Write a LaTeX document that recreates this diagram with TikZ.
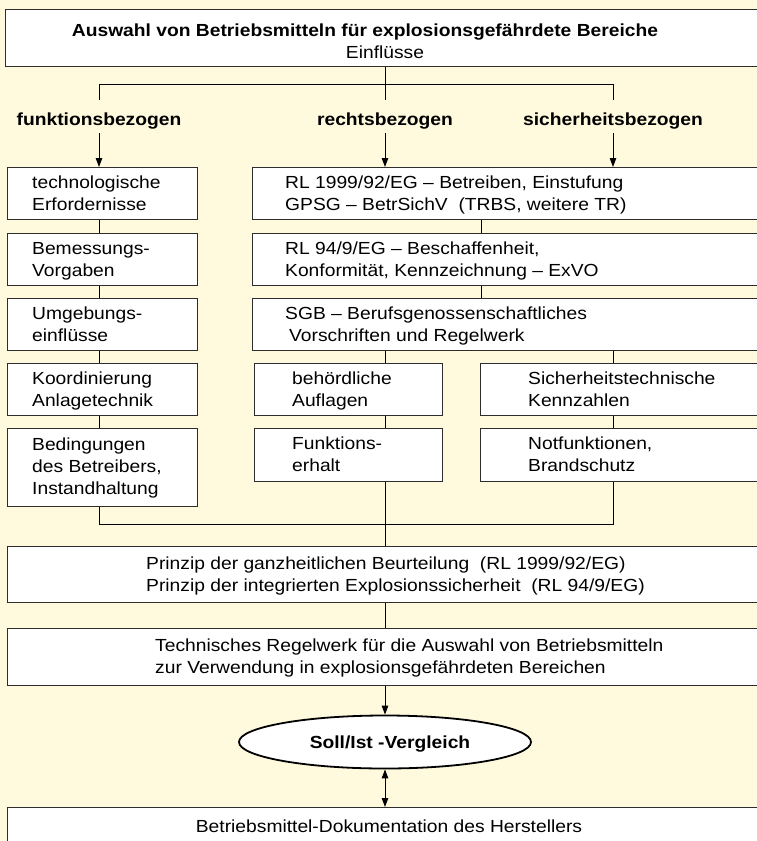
\documentclass[tikz,border=0pt]{standalone}
\usepackage{fontspec}
\setmainfont[FakeStretch=1.1]{Liberation Sans}
\usetikzlibrary{arrows.meta,shapes.geometric}
\definecolor{bg}{RGB}{255,250,221}
\definecolor{bord}{RGB}{45,45,45}
\begin{document}
\begin{tikzpicture}[x=1pt,y=-1pt,
  font=\fontsize{17.5}{22}\selectfont,
  box/.style={draw=bord, line width=1.2pt, fill=white, inner sep=0pt, anchor=north west},
  txt/.style={anchor=base west, align=left, inner sep=0pt},
  ctxt/.style={anchor=base, align=center, inner sep=0pt},
  lbl/.style={anchor=base, font=\fontsize{17.5}{22}\selectfont\bfseries, inner sep=4.5pt},
  conn/.style={line width=1pt, draw=black},
  arr/.style={conn, -{Triangle[length=9pt,width=6.5pt]}},
  darr/.style={conn, {Triangle[length=9pt,width=6.5pt]}-{Triangle[length=9pt,width=6.5pt]}}]
\useasboundingbox (0,0) rectangle (757,841);
\clip (0,0) rectangle (757,841);
\fill[bg] (0,0) rectangle (757,841);

% boxes
\node[box, minimum width=765pt, minimum height=57pt] (top) at (5,9) {};
\node[box, minimum width=190pt, minimum height=52pt] (L1) at (7,167) {};
\node[box, minimum width=190pt, minimum height=52pt] (L2) at (7,233) {};
\node[box, minimum width=190pt, minimum height=52pt] (L3) at (7,298) {};
\node[box, minimum width=190pt, minimum height=52pt] (L4) at (7,363) {};
\node[box, minimum width=190pt, minimum height=78pt] (L5) at (7,428) {};
\node[box, minimum width=518pt, minimum height=52pt] (R1) at (252,167) {};
\node[box, minimum width=518pt, minimum height=52pt] (R2) at (252,233) {};
\node[box, minimum width=518pt, minimum height=52pt] (R3) at (252,298) {};
\node[box, minimum width=188pt, minimum height=52pt] (M4) at (254,363) {};
\node[box, minimum width=188pt, minimum height=53pt] (M5) at (254,428) {};
\node[box, minimum width=290pt, minimum height=52pt] (S4) at (480,363) {};
\node[box, minimum width=290pt, minimum height=53pt] (S5) at (480,428) {};
\node[box, minimum width=763pt, minimum height=56pt] (P) at (7,546) {};
\node[box, minimum width=763pt, minimum height=57pt] (T) at (7,628) {};
\node[box, minimum width=763pt, minimum height=60pt] (D) at (7,807) {};
\node[ellipse, draw=black, line width=1.8pt, fill=white, minimum width=292pt, minimum height=53pt, inner sep=0pt] (soll) at (385,742) {};

% texts (anchor = baseline of last line)
\node[ctxt, font=\fontsize{17.5}{22}\selectfont\bfseries] (ttop1) at (365,36) {Auswahl von Betriebsmitteln für explosionsgefährdete Bereiche};
\node[ctxt] (ttop2) at (385,58) {Einflüsse};
\node[lbl] (lf) at (99,125) {funktionsbezogen};
\node[lbl] (lrc) at (385,125) {rechtsbezogen};
\node[lbl] (ls) at (613,125) {sicherheitsbezogen};

\node[txt] (tL1) at (32,210) {technologische\\Erfordernisse};
\node[txt] (tL2) at (32,276) {Bemessungs-\\Vorgaben};
\node[txt] (tL3) at (32,341) {Umgebungs-\\einflüsse};
\node[txt] (tL4) at (32,406) {Koordinierung\\Anlagetechnik};
\node[txt] (tL5) at (32,494) {Bedingungen\\des Betreibers,\\Instandhaltung};
\node[txt] (tR1) at (285,210) {RL 1999/92/EG – Betreiben, Einstufung\\GPSG – BetrSichV\ \ (TRBS, weitere TR)};
\node[txt] (tR2) at (285,276) {RL 94/9/EG – Beschaffenheit,\\Konformität, Kennzeichnung – ExVO};
\node[txt] (tR3) at (285,341) {SGB – Berufsgenossenschaftliches\\\hspace{4pt}Vorschriften und Regelwerk};
\node[txt] (tM4) at (292,406) {behördliche\\Auflagen};
\node[txt] (tM5) at (292,471) {Funktions-\\erhalt};
\node[txt] (tS4) at (528,406) {Sicherheitstechnische\\Kennzahlen};
\node[txt] (tS5) at (528,471) {Notfunktionen,\\Brandschutz};
\node[txt] (tP) at (146,591) {Prinzip der ganzheitlichen Beurteilung\ \ (RL 1999/92/EG)\\Prinzip der integrierten Explosionssicherheit\ \ (RL 94/9/EG)};
\node[txt] (tT) at (155,673) {Technisches Regelwerk für die Auswahl von Betriebsmitteln\\zur Verwendung in explosionsgefährdeten Bereichen};
\node[ctxt, font=\fontsize{17.5}{22}\selectfont\bfseries] (tsoll) at (390,748) {Soll/Ist -Vergleich};
\node[ctxt] (tD) at (389,832) {Betriebsmittel-Dokumentation des Herstellers};

% coordinates
\coordinate (xl) at (99,0);
\coordinate (xc) at (385,0);
\coordinate (xr) at (613,0);
\coordinate (xm) at (481,0);
\coordinate (jl) at (99,100);
\coordinate (jc) at (385,100);
\coordinate (jr) at (613,100);
\coordinate (hl) at (99,84);
\coordinate (hr) at (613,84);
\coordinate (bl) at (99,524);
\coordinate (br) at (613,524);

% connectors
\draw[conn] (top.south -| xc) -- (jc);
\draw[conn] (jl) -- (hl) -- (hr) -- (jr);
\draw[arr] (lf.south) -- (L1.north -| lf);
\draw[arr] (lrc.south) -- (R1.north -| lrc);
\draw[arr] (ls.south) -- (R1.north -| ls);
\draw[conn] (L1.south -| xl) -- (L2.north -| xl);
\draw[conn] (L2.south -| xl) -- (L3.north -| xl);
\draw[conn] (L3.south -| xl) -- (L4.north -| xl);
\draw[conn] (L4.south -| xl) -- (L5.north -| xl);
\draw[conn] (R1.south -| xm) -- (R2.north -| xm);
\draw[conn] (R2.south -| xm) -- (R3.north -| xm);
\draw[conn] (R3.south -| xc) -- (M4.north -| xc);
\draw[conn] (R3.south -| xr) -- (S4.north -| xr);
\draw[conn] (M4.south -| xc) -- (M5.north -| xc);
\draw[conn] (S4.south -| xr) -- (S5.north -| xr);
\draw[conn] (L5.south -| xl) -- (bl) -- (br) -- (S5.south -| xr);
\draw[conn] (M5.south -| xc) -- (P.north -| xc);
\draw[conn] (P.south -| xc) -- (T.north -| xc);
\draw[arr] (T.south -| xc) -- (soll.north);
\draw[darr] (soll.south) -- (D.north -| xc);
\end{tikzpicture}
\end{document}
